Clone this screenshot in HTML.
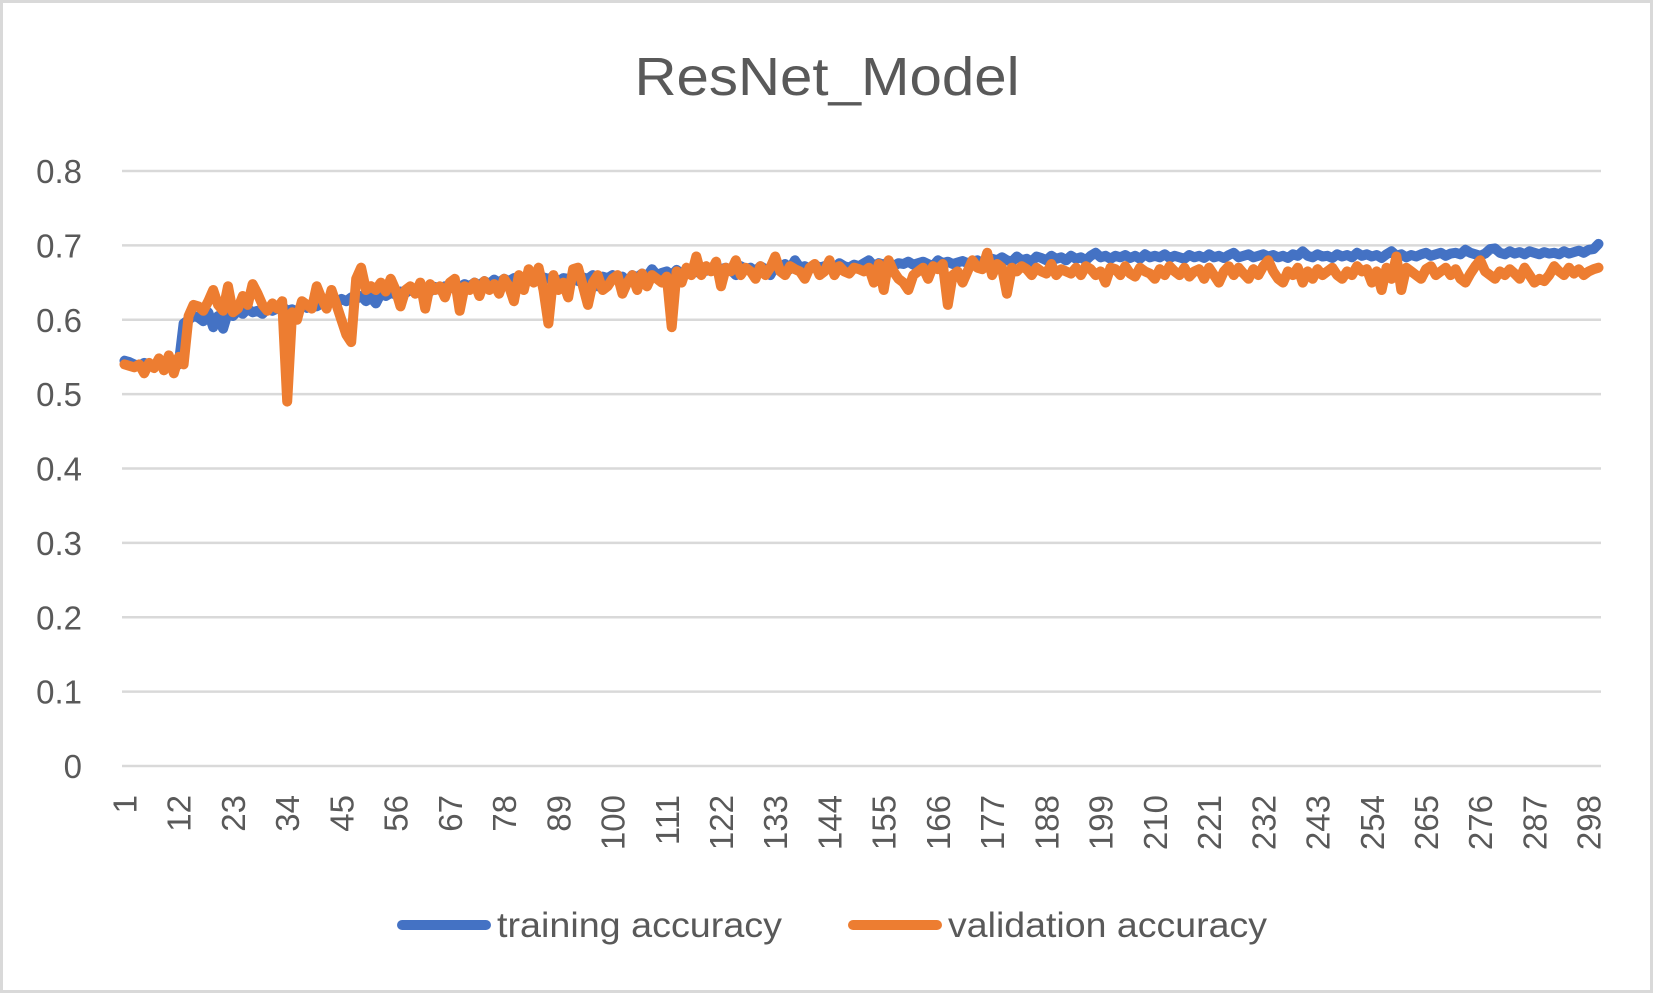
<!DOCTYPE html>
<html><head><meta charset="utf-8"><style>
html,body{margin:0;padding:0;background:#fff;}
svg{display:block;font-family:"Liberation Sans",sans-serif;}
</style></head><body>
<svg id="chart" width="1653" height="993" viewBox="0 0 1653 993">
<rect x="1.5" y="1.5" width="1650" height="990" fill="#fff" stroke="#d9d9d9" stroke-width="3"/>
<text x="827" y="95" text-anchor="middle" font-size="54" textLength="385" lengthAdjust="spacingAndGlyphs" fill="#595959">ResNet_Model</text>
<g id="grid"></g><g id="ylabels"></g><g id="xlabels"></g><g id="series"></g>
<g>
<g>
<line x1="402" y1="925" x2="486" y2="925" stroke="#4472C4" stroke-width="10" stroke-linecap="round"/>
<text x="497" y="937" font-size="35" textLength="285" lengthAdjust="spacingAndGlyphs" fill="#595959">training accuracy</text></g>
<g>
<line x1="853" y1="925" x2="937" y2="925" stroke="#ED7D31" stroke-width="10" stroke-linecap="round"/>
<text x="948" y="937" font-size="35" textLength="319" lengthAdjust="spacingAndGlyphs" fill="#595959">validation accuracy</text></g>
</g>
</svg>
<script>
const yTicks=[0,0.1,0.2,0.3,0.4,0.5,0.6,0.7,0.8];
const yTickLabels=["0","0.1","0.2","0.3","0.4","0.5","0.6","0.7","0.8"];
const training=[.545,.543,.540,.538,.542,.540,.536,.545,.538,.540,
.542,.540,.595,.600,.605,.603,.598,.610,.590,.605,
.588,.610,.605,.612,.608,.615,.610,.612,.608,.615,
.612,.615,.618,.612,.614,.610,.620,.616,.620,.618,
.622,.620,.625,.622,.628,.625,.630,.628,.632,.625,
.630,.622,.635,.632,.636,.634,.638,.636,.640,.638,
.640,.642,.638,.644,.640,.645,.642,.646,.644,.648,
.645,.650,.646,.652,.648,.654,.650,.655,.652,.656,
.650,.655,.652,.656,.654,.657,.655,.658,.650,.656,
.655,.658,.652,.657,.655,.660,.645,.658,.656,.660,
.655,.658,.650,.660,.657,.662,.658,.668,.660,.663,
.665,.660,.667,.662,.665,.668,.664,.668,.666,.670,
.665,.668,.670,.667,.660,.672,.668,.670,.665,.672,
.668,.660,.672,.670,.675,.668,.680,.670,.672,.668,
.674,.670,.672,.675,.668,.676,.672,.670,.674,.672,
.676,.680,.672,.676,.674,.678,.672,.676,.675,.678,
.674,.676,.678,.675,.672,.680,.676,.678,.675,.677,
.679,.676,.678,.680,.675,.678,.682,.680,.684,.680,
.678,.685,.680,.682,.678,.685,.683,.680,.686,.682,
.684,.680,.686,.682,.684,.680,.686,.690,.684,.686,
.682,.686,.684,.687,.683,.686,.682,.688,.684,.686,
.684,.688,.683,.686,.684,.682,.687,.684,.686,.683,
.688,.684,.686,.683,.687,.690,.684,.686,.688,.684,
.686,.688,.685,.687,.684,.686,.683,.688,.686,.692,
.686,.684,.688,.685,.686,.683,.688,.685,.687,.684,
.690,.686,.688,.685,.687,.683,.688,.692,.686,.688,
.684,.687,.685,.688,.690,.686,.688,.690,.686,.689,
.690,.688,.694,.690,.688,.686,.689,.695,.696,.690,
.688,.692,.689,.691,.688,.692,.690,.688,.691,.689,
.690,.688,.692,.689,.691,.693,.690,.694,.695,.702];
const validation=[.540,.538,.536,.540,.528,.542,.535,.548,.532,.552,
.528,.550,.540,.605,.620,.618,.612,.625,.640,.620,
.612,.645,.610,.615,.632,.620,.648,.635,.620,.612,
.622,.615,.625,.490,.610,.600,.625,.620,.615,.645,
.628,.615,.640,.620,.600,.580,.570,.655,.670,.640,
.645,.640,.650,.638,.655,.640,.618,.640,.645,.635,
.650,.615,.648,.640,.645,.630,.650,.655,.612,.645,
.640,.650,.632,.652,.640,.648,.635,.655,.645,.625,
.660,.640,.668,.650,.670,.640,.595,.660,.640,.650,
.630,.668,.670,.645,.620,.650,.660,.640,.645,.655,
.660,.635,.650,.660,.640,.662,.645,.660,.655,.650,
.658,.590,.665,.650,.670,.660,.685,.660,.672,.665,
.678,.645,.670,.665,.680,.660,.670,.665,.655,.672,
.660,.670,.685,.665,.660,.672,.668,.665,.655,.670,
.675,.660,.665,.680,.660,.672,.665,.662,.670,.668,
.665,.670,.650,.675,.640,.680,.665,.655,.650,.640,
.660,.665,.670,.655,.672,.668,.675,.620,.660,.665,
.650,.665,.680,.670,.668,.690,.660,.675,.670,.635,
.670,.665,.672,.668,.660,.670,.665,.662,.675,.660,
.668,.665,.662,.670,.660,.672,.668,.660,.665,.650,
.670,.668,.660,.672,.662,.658,.670,.665,.662,.655,
.668,.660,.672,.665,.660,.670,.658,.665,.668,.655,
.670,.660,.650,.665,.672,.660,.670,.662,.655,.668,
.660,.672,.680,.665,.655,.650,.665,.660,.670,.650,
.665,.655,.668,.660,.665,.670,.660,.655,.665,.660,
.672,.665,.668,.650,.665,.640,.670,.655,.685,.640,
.670,.665,.660,.655,.668,.672,.660,.665,.670,.660,
.668,.655,.650,.662,.672,.680,.665,.660,.655,.665,
.660,.668,.662,.655,.670,.660,.650,.655,.652,.660,
.672,.665,.660,.670,.662,.668,.660,.665,.668,.670];
const categories=training.map((_,i)=>i+1);
const xTickLabels=categories.filter((c)=>(c-1)%11===0);

const NS="http://www.w3.org/2000/svg";
const X0=122,X1=1601,Y0=766,Y1=171,YMAX=0.8;
const n=categories.length, step=(X1-X0)/n;
function xScale(c){return X0+(c-0.5)*step;}
function yScale(v){return Y0-(v/YMAX)*(Y0-Y1);}
function mk(tag,attrs,parent){const e=document.createElementNS(NS,tag);for(const k in attrs)e.setAttribute(k,attrs[k]);parent.appendChild(e);return e;}

const grid=document.getElementById('grid'),yl=document.getElementById('ylabels'),xl=document.getElementById('xlabels'),ser=document.getElementById('series');
yTicks.forEach((t,i)=>{
  const y=yScale(t);
  const g=mk('line',{x1:X0,x2:X1,y1:y,y2:y,stroke:'#d9d9d9','stroke-width':2.5},grid);
  
  
  const tx=mk('text',{x:82,y:y+12,'text-anchor':'end','font-size':33,fill:'#595959'},yl);
  tx.textContent=yTickLabels[i];
  
  
});
xTickLabels.forEach(c=>{
  const x=xScale(c);
  const tx=mk('text',{x:0,y:0,'text-anchor':'end','font-size':33,fill:'#595959',transform:`translate(${x+12},795) rotate(-90)`},xl);
  tx.textContent=String(c);
  
  
});
function drawLine(vals,color,name){
  const d=vals.map((v,i)=>(i?'L':'M')+xScale(categories[i]).toFixed(1)+','+yScale(v).toFixed(1)).join('');
  const p=mk('path',{d:d,fill:'none',stroke:color,'stroke-width':10,'stroke-linejoin':'round','stroke-linecap':'round'},ser);
  
  
}
drawLine(training,'#4472C4','training-accuracy-line');
drawLine(validation,'#ED7D31','validation-accuracy-line');
</script>
</body></html>
